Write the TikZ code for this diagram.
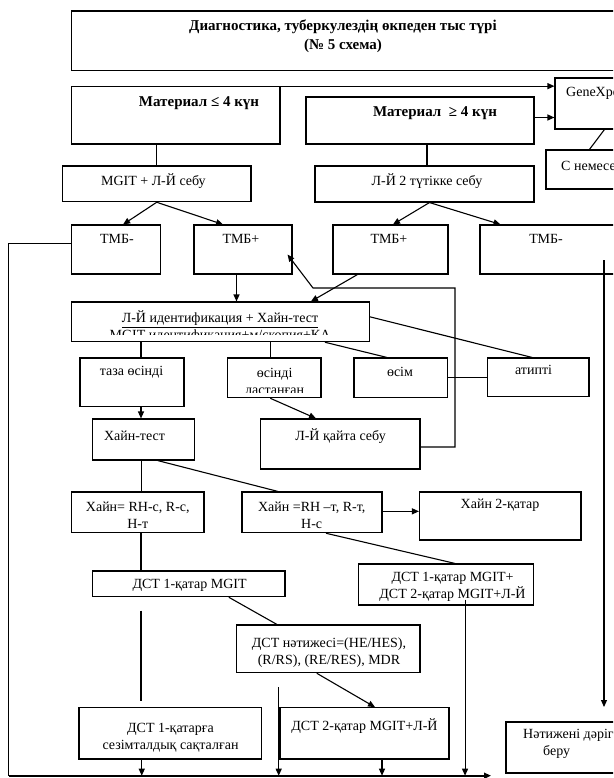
\documentclass[tikz,border=0pt]{standalone}
\usepackage{fontspec}
\setmainfont{Liberation Serif}
\usetikzlibrary{arrows.meta,calc}

% rectangle node given by its two corners (x1,y1) and (x2,y2)
\newcommand{\boxat}[5]{%
  \node[box, minimum width={(#4-#2)*1pt}, minimum height={(#5-#3)*1pt}]
    (#1) at ({(#2+#4)/2},{(#3+#5)/2}) {};}

\begin{document}
\begin{tikzpicture}[x=1pt,y=-1pt,
  box/.style={draw, line width=1.1pt, rectangle, inner sep=0pt, fill=white},
  txt/.style={inner sep=0pt, align=center, font=\fontsize{14}{17}\selectfont},
  btxt/.style={inner sep=0pt, align=center, font=\fontsize{15}{19}\selectfont\bfseries},
  link/.style={line width=1.1pt},
  arr/.style={link, -{Triangle[length=7pt,width=6pt]}}]

\useasboundingbox (0,0) rectangle (613,778);
\clip (0,0) rectangle (613,778);

% boxes
\boxat{title}{71.5}{11}{618}{70.7}
\boxat{matA}{71.5}{86.7}{280}{144}
\boxat{matB}{306}{97}{534}{144}
\boxat{gx}{555}{78}{640}{129}
\boxat{cn}{546}{150}{640}{189}
\boxat{mgit}{62.5}{166}{251}{201.7}
\boxat{ljtwo}{315}{166}{534}{202}
\boxat{tmbA}{71.5}{225}{160.7}{274}
\boxat{tmbB}{194}{225}{292}{274}
\boxat{tmbC}{333}{225}{448}{274}
\boxat{tmbD}{480}{225}{618}{274}
\boxat{ident}{71.5}{302}{369.4}{341.7}
\boxat{taza}{80}{358}{184}{406.7}
\boxat{lastan}{227.5}{358}{321}{397.7}
\boxat{osim}{354}{358}{447.6}{397.7}
\boxat{atip}{487.5}{358}{589}{396.7}
\boxat{hain}{92.6}{419}{194.7}{460}
\boxat{ljk}{260.8}{419}{420}{469}
\boxat{hA}{71.5}{492}{204}{532.7}
\boxat{hB}{242}{492}{382}{532.7}
\boxat{hC}{419.5}{492}{581}{540}
\boxat{dstA}{92.6}{571}{285}{596.7}
\boxat{dstAB}{358.5}{564}{533.6}{605}
\boxat{res}{236.5}{625}{420}{672.7}
\boxat{sens}{79}{707.7}{261.5}{759}
\boxat{dstB}{280}{707.7}{449}{759}
\boxat{out}{506}{722}{640}{773}

% texts
\node[btxt] (ttitle) at (343,36.5) {Диагностика, туберкулездің өкпеден тыс түрі\\(№ 5 схема)};
\node[btxt] (tmatA) at (199,103) {Материал ≤ 4 күн};
\node[btxt] (tmatB) at (435,113) {Материал\ \ ≥ 4 күн};
\node[txt, anchor=west] (tgx) at (566,93) {GeneXpert};
\node[txt, anchor=west] (tcn) at (561,166) {С немесе};
\node[txt] (tmgit) at (153.4,181) {MGIT + Л-Й себу};
\node[txt] (tljtwo) at (427,181) {Л-Й 2 түтікке себу};
\node[txt] (ttmbA) at (117,239) {ТМБ-};
\node[txt] (ttmbB) at (241,239) {ТМБ+};
\node[txt] (ttmbC) at (389,239) {ТМБ+};
\node[txt] (ttmbD) at (546,239) {ТМБ-};
\begin{scope}
  \clip (71.5,302) rectangle (369.4,334.5);
  \node[txt] (tident) at (220,326.5) {\underline{Л-Й идентификация + Хайн-тест}\\MGIT идентификация+м/скопия+КА};
\end{scope}
\node[txt] (ttaza) at (131.5,372) {таза өсінді};
\begin{scope}
  \clip (227.5,358) rectangle (321,392.5);
  \node[txt] (tlastan) at (274.6,381.5) {өсінді\\ластанған};
\end{scope}
\node[txt] (tosim) at (400,372) {өсім};
\node[txt] (tatip) at (533.6,370) {атипті};
\node[txt] (thain) at (134.5,436) {Хайн-тест};
\node[txt] (tljk) at (340.5,436) {Л-Й қайта себу};
\node[txt] (thA) at (137.8,515) {Хайн= RH-с, R-с,\\H-т};
\node[txt] (thB) at (311.7,515) {Хайн =RH –т, R-т,\\H-с};
\node[txt] (thC) at (500,505) {Хайн 2-қатар};
\node[txt] (tdstA) at (189.6,585) {ДСТ 1-қатар MGIT};
\node[txt] (tdstAB) at (452.5,587) {ДСТ 1-қатар MGIT+\\ДСТ 2-қатар MGIT+Л-Й};
\node[txt] (tres) at (329,652.5) {ДСТ нәтижесі=(HE/HES),\\(R/RS), (RE/RES), MDR};
\node[txt] (tsens) at (170.5,738) {ДСТ 1-қатарға\\сезімталдық сақталған};
\node[txt] (tdstB) at (364.5,726) {ДСТ 2-қатар MGIT+Л-Й};
\node[txt, align=left, anchor=west] (tout) at (523,743.5) {Нәтижені дәрігерге\\\hspace*{20pt}беру};

% connectors
\draw[arr] (matA.north east) -- (matA.north east -| gx.west);
\draw[arr] ($(matB.east)+(0,-3)$) coordinate (p) -- (p -| gx.west);
\draw[link] (mgit.north) -- (mgit.north |- matA.south);
\draw[link] ($(ljtwo.north)+(2.5,0)$) coordinate (p) -- (p |- matB.south);
\draw[link] ($(gx.south west)+(50,0)$) -- ($(cn.north west)+(44,0)$);
\draw[arr] (mgit.south) -- ($(tmbA.north)+(7,0)$);
\draw[arr] (mgit.south) -- ($(tmbB.north)+(-20,0)$);
\draw[arr] ($(ljtwo.south)+(5,0)$) -- ($(tmbC.north)+(2.5,0)$);
\draw[arr] ($(ljtwo.south)+(5,0)$) -- ($(tmbD.north west)+(21,0)$);

\coordinate (bl) at (8.6,775.7);
\coordinate (br) at (491,775.7);
\draw[link] ($(tmbA.north west)+(0,19)$) -| (bl);
\draw[arr, line width=1.6pt] (bl) -- (br);

\draw[arr] ($(tmbB.south)+(-6.5,0)$) coordinate (p) -- (p |- ident.north);
\draw[arr] ($(tmbC.south west)+(25,0)$) -- ($(ident.north east)+(-59,0)$);
\coordinate (lpA) at (455,288);
\coordinate (lpB) at (313,288);
\draw[arr] ($(ljk.east)+(0,3)$) -| (lpA) -- (lpB) -- ($(tmbB.south east)+(-5,-20)$);

\draw[link] ($(ident.east)+(0,-5)$) -- ($(atip.north)+(-6,0)$);
\draw[link] ($(ident.south east)+(-45,0)$) -- ($(osim.north)+(-13.8,0)$);
\draw[link] ($(taza.north)+(9,0)$) coordinate (p) -- (p |- ident.south);
\draw[link] ($(lastan.north)+(-4,0)$) coordinate (p) -- (p |- ident.south);
\draw[link] (osim.east) -- (osim.east -| atip.west);

\draw[arr] ($(taza.south)+(9,0)$) coordinate (p) -- (p |- hain.north);
\draw[arr] ($(lastan.south)+(-4,0)$) -- ($(ljk.north)+(-24.4,0)$);
\draw[link] ($(hain.south)+(-2.6,0)$) coordinate (p) -- (p |- hA.north);
\draw[link] ($(hain.south)+(14,0)$) -- ($(hB.north)+(-34,0)$);
\draw[arr] ($(hB.east)+(0,-1)$) coordinate (p) -- (p -| hC.west);

\draw[link] ($(hA.south)+(3.25,0)$) coordinate (p) -- (p |- dstA.north);
\draw[link] ($(hB.south)+(14,0)$) -- ($(dstAB.north)+(9,0)$);
\draw[link] ($(dstA.south)+(40,0)$) -- ($(res.north west)+(41,0)$);
\draw[link] ($(dstA.south)+(-47.8,13.3)$) -- ($(sens.north)+(-29.25,-6)$);

\coordinate (vA) at (278.7,687);
\draw[arr] (vA) -- (vA |- bl);
\draw[arr] ($(res.south)+(-11.5,0)$) -- ($(dstB.north)+(10.5,0)$);
\draw[arr] ($(sens.south)+(-28.5,0)$) coordinate (p) -- (p |- bl);
\draw[arr] ($(dstB.south)+(17.5,0)$) coordinate (p) -- (p |- bl);
\draw[arr] ($(dstAB.south)+(19,-6)$) coordinate (p) -- (p |- bl);

\coordinate (rA) at (604,260);
\coordinate (rB) at (604,707);
\draw[arr] (rA) -- (rB);

\end{tikzpicture}
\end{document}
